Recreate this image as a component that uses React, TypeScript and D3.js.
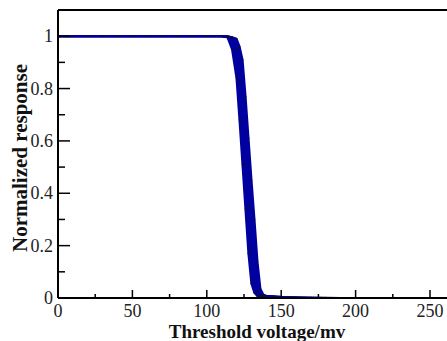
import React, { useEffect, useRef } from "react";
import * as d3 from "d3";

// threshold voltage (mV) sample points shared by every curve
const voltages = [
  0, 10, 20, 30, 40, 50, 60, 70, 80, 90, 100, 105, 110, 114, 117, 120, 122, 124, 126,
  128, 130, 132, 134, 136, 138, 140, 145, 150, 160, 170, 180, 190, 200, 210, 220, 230,
  240, 250, 260, 280, 300,
];

// normalized responses, one array per simulated curve (left edge -> right edge of the band)
const curveA = [
  1, 1, 1, 1, 1, 1, 1, 1, 1, 1, 1, 1, 1, 0.995, 0.95, 0.84, 0.68, 0.51, 0.34, 0.17,
  0.055, 0.02, 0.008, 0.005, 0.004, 0.003, 0.002, 0.001, 0, 0, 0, 0, 0, 0, 0, 0, 0, 0, 0, 0, 0,
];
const curveB = [
  1, 1, 1, 1, 1, 1, 1, 1, 1, 1, 1, 1, 1, 0.997, 0.975, 0.9, 0.75, 0.59, 0.42, 0.26,
  0.11, 0.035, 0.013, 0.007, 0.005, 0.004, 0.003, 0.002, 0.001, 0, 0, 0, 0, 0, 0, 0, 0, 0, 0, 0, 0,
];
const curveC = [
  1, 1, 1, 1, 1, 1, 1, 1, 1, 1, 1, 1, 1, 0.998, 0.99, 0.95, 0.83, 0.67, 0.51, 0.35,
  0.19, 0.07, 0.025, 0.012, 0.008, 0.006, 0.004, 0.003, 0.002, 0.001, 0, 0, 0, 0, 0, 0, 0, 0, 0, 0, 0,
];
const curveD = [
  1, 1, 1, 1, 1, 1, 1, 1, 1, 1, 1, 1, 1, 0.999, 0.995, 0.98, 0.91, 0.76, 0.6, 0.44,
  0.28, 0.13, 0.05, 0.018, 0.01, 0.007, 0.005, 0.003, 0.002, 0.001, 0, 0, 0, 0, 0, 0, 0, 0, 0, 0, 0,
];
const curveE = [
  1, 1, 1, 1, 1, 1, 1, 1, 1, 1, 1, 1, 1, 0.999, 0.996, 0.99, 0.96, 0.91, 0.77, 0.61,
  0.45, 0.3, 0.14, 0.035, 0.012, 0.008, 0.006, 0.004, 0.002, 0.001, 0.001, 0, 0, 0, 0, 0, 0, 0, 0, 0, 0,
];
const curves = [curveA, curveB, curveC, curveD, curveE];

const xMajorTicks = [0, 50, 100, 150, 200, 250];
const xMinorTicks = [25, 75, 125, 175, 225, 275];
const yMajorTicks = [0, 0.2, 0.4, 0.6, 0.8, 1];
const yMinorTicks = [0.1, 0.3, 0.5, 0.7, 0.9];

export default function App() {
  const svgRef = useRef<SVGSVGElement>(null);

  useEffect(() => {
    const svg = d3.select(svgRef.current);
    svg.selectAll("*").remove();

    const width = 447;
    const height = 341;
    const margin = { top: 10, left: 58, bottom: 43 };

    // frame runs past the right edge of the picture, like the cropped original
    const x = d3.scaleLinear().domain([0, 300]).range([margin.left, margin.left + 300 * 1.488]);
    const y = d3.scaleLinear().domain([0, 1.1]).range([height - margin.bottom, margin.top]);

    const font = "Liberation Serif, DejaVu Serif, serif";
    const blue = "#0000a0";

    const line = d3
      .line<number>()
      .x((_, i) => x(voltages[i]))
      .y((d) => y(d));

    const band = d3
      .area<number>()
      .x((_, i) => x(voltages[i]))
      .y0((d) => y(d))
      .y1((_, i) => y(curveE[i]));

    const g = svg.append("g");

    g.append("path").attr("d", band(curveA)).attr("fill", blue);

    curves.forEach((c) => {
      g.append("path")
        .attr("d", line(c))
        .attr("fill", "none")
        .attr("stroke", blue)
        .attr("stroke-width", 2.2)
        .attr("stroke-linejoin", "round");
    });

    // small black markers on the curves
    [curveA, curveC, curveE].forEach((c) => {
      g.selectAll(null)
        .data(c)
        .join("circle")
        .attr("cx", (_, i) => x(voltages[i]))
        .attr("cy", (d) => y(d))
        .attr("r", 0.9)
        .attr("fill", "#111");
    });

    const frame = svg.append("g").attr("stroke", "#000").attr("stroke-width", 2);
    frame.append("line").attr("x1", x(0)).attr("x2", x(0)).attr("y1", y(1.1)).attr("y2", y(0));
    frame.append("line").attr("x1", x(0)).attr("x2", x(300)).attr("y1", y(0)).attr("y2", y(0));
    frame.append("line").attr("x1", x(0)).attr("x2", x(300)).attr("y1", y(1.1)).attr("y2", y(1.1));

    const ticks = svg.append("g").attr("stroke", "#000").attr("stroke-width", 1.5);
    xMajorTicks.forEach((t) => {
      ticks.append("line").attr("x1", x(t)).attr("x2", x(t)).attr("y1", y(0)).attr("y2", y(0) - 8);
    });
    xMinorTicks.forEach((t) => {
      ticks.append("line").attr("x1", x(t)).attr("x2", x(t)).attr("y1", y(0)).attr("y2", y(0) - 4);
    });
    yMajorTicks.forEach((t) => {
      ticks.append("line").attr("x1", x(0)).attr("x2", x(0) + 12).attr("y1", y(t)).attr("y2", y(t));
    });
    yMinorTicks.forEach((t) => {
      ticks.append("line").attr("x1", x(0)).attr("x2", x(0) + 7).attr("y1", y(t)).attr("y2", y(t));
    });

    svg.append("g")
      .selectAll("text")
      .data(xMajorTicks)
      .join("text")
      .attr("x", (d) => x(d))
      .attr("y", y(0) + 19)
      .attr("text-anchor", "middle")
      .attr("font-family", font)
      .attr("font-size", 18)
      .attr("fill", "#222")
      .text((d) => d3.format("d")(d));

    svg.append("g")
      .selectAll("text")
      .data(yMajorTicks)
      .join("text")
      .attr("x", x(0) - 5)
      .attr("y", (d) => y(d) + 6)
      .attr("text-anchor", "end")
      .attr("font-family", font)
      .attr("font-size", 18)
      .attr("fill", "#222")
      .text((d) => (d === 0 ? "0" : d3.format("~g")(d)));

    svg.append("text")
      .attr("x", 257)
      .attr("y", 338)
      .attr("text-anchor", "middle")
      .attr("font-family", font)
      .attr("font-weight", "bold")
      .attr("font-size", 19)
      .attr("fill", "#111")
      .text("Threshold voltage/mv");

    svg.append("text")
      .attr("transform", "translate(27,158) rotate(-90)")
      .attr("text-anchor", "middle")
      .attr("font-family", font)
      .attr("font-weight", "bold")
      .attr("font-size", 21)
      .attr("fill", "#111")
      .text("Normalized response");

    svg.attr("width", width).attr("height", height);
  }, []);

  return (
    <svg
      ref={svgRef}
      style={{ position: "absolute", left: 0, top: 0, background: "#fff", display: "block" }}
    />
  );
}
